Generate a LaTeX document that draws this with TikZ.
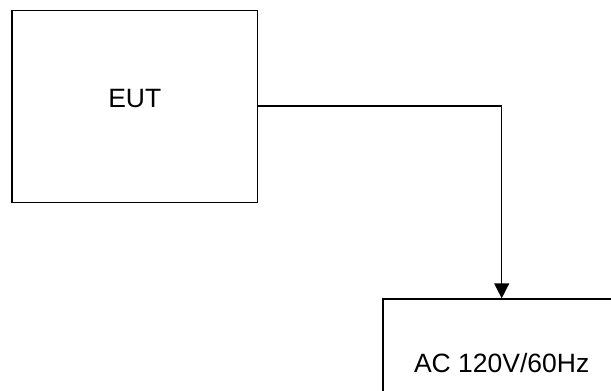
\documentclass[tikz,border=0pt]{standalone}
\usepackage{fontspec}
\setmainfont{Liberation Sans}
\usetikzlibrary{arrows.meta}
\begin{document}
\begin{tikzpicture}[x=1pt,y=-1pt,
  box/.style={draw=black,line width=1.4pt,fill=none,inner sep=0pt},
  lbl/.style={inner sep=0pt,font=\fontsize{26.5}{30}\selectfont},
  wire/.style={line width=1.4pt,-{Triangle[width=15pt,length=15pt]}}]
\useasboundingbox (0,0) rectangle (611,391);
\clip (0,0) rectangle (611,391);
\node[box,minimum width=245.3pt,minimum height=191.6pt] (eut) at (134.6,106.5) {};
\node[lbl] (eutlbl) at (134.8,98.8) {EUT};
\node[box,minimum width=239pt,minimum height=191.6pt,anchor=north west] (ac) at (382.3,298.3) {};
\node[lbl] (aclbl) at (501.7,363.3) {AC 120V/60Hz};
\coordinate (bend) at (501.7,106);
\draw[wire] (eut.east |- bend) -- (bend) -- (bend |- ac.north);
\end{tikzpicture}
\end{document}
